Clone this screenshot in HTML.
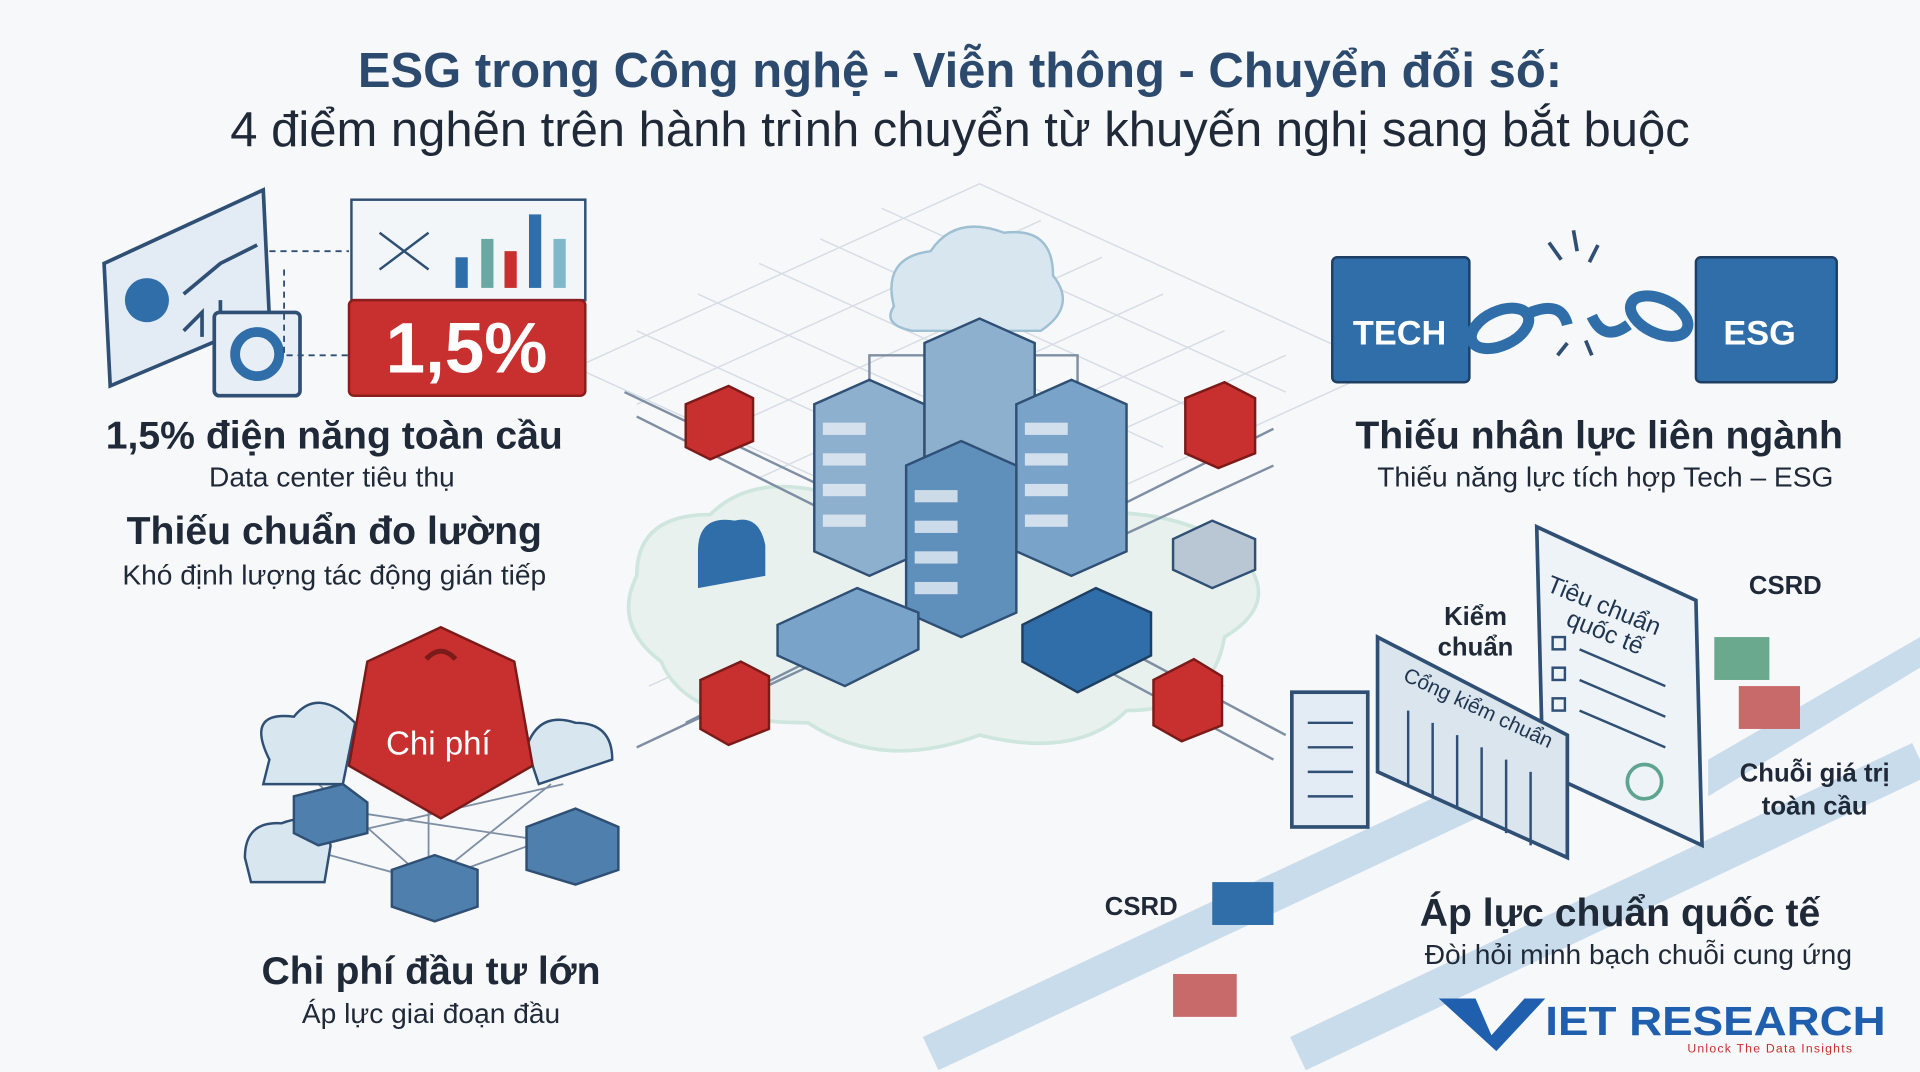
<!DOCTYPE html>
<html><head><meta charset="utf-8"><style>
html,body{margin:0;padding:0;background:#f7f8fa;}
svg{display:block;}
text{font-family:"Liberation Sans",sans-serif;}
</style></head><body>
<svg width="1920" height="1072" viewBox="0 0 1568 875" preserveAspectRatio="none" xmlns="http://www.w3.org/2000/svg">
<rect width="1568" height="875" fill="#f7f8fa"/>
<g stroke="#d6dde5" stroke-width="1.2" fill="none">
<path d="M470 300 L800 150 L1130 300 L800 450 Z"/>
<path d="M520 330 L850 180 M570 360 L900 210 M620 390 L950 240 M670 420 L1000 270 M720 440 L1050 290"/>
<path d="M520 270 L850 420 M570 240 L900 390 M620 215 L950 365 M670 195 L1000 345 M720 170 L1050 320"/>
<path d="M530 560 L840 420 M600 600 L910 460 M1000 560 L760 450"/>
</g>
<path d="M520 470 Q520 420 580 420 Q620 380 700 410 Q780 380 860 420 Q960 410 1010 450 Q1050 490 1000 520 Q990 580 920 580 Q880 620 800 600 Q720 630 660 590 Q560 590 540 540 Q500 510 520 470Z" fill="#e8f1ee" stroke="#cfe6de" stroke-width="3"/>
<path d="M730 250 Q720 210 760 205 Q780 175 820 190 Q860 185 860 225 Q880 250 850 270 L745 270 Q720 265 730 250Z" fill="#d7e6ef" stroke="#9fbfd3" stroke-width="2"/>
<g stroke="#7f8fa3" stroke-width="2" fill="none">
<path d="M510 320 L720 420 M520 340 L720 440 M560 590 L700 520 M520 610 L690 530 M1040 350 L900 420 M1040 380 L910 440 M1050 600 L900 520 M1040 620 L890 540"/>
<path d="M710 330 L710 290 L760 290 M880 330 L880 290 L840 290"/>
</g>
<g stroke="#2f4f74" stroke-width="2">
<path d="M665 330 L710 310 L755 330 L755 450 L710 470 L665 450Z" fill="#8db0cf"/>
<path d="M755 280 L800 260 L845 280 L845 400 L800 420 L755 400Z" fill="#8db0cf"/>
<path d="M830 330 L875 310 L920 330 L920 450 L875 470 L830 450Z" fill="#7aa3c9"/>
<path d="M740 380 L785 360 L830 380 L830 500 L785 520 L740 500Z" fill="#5f8fbb"/>
</g>
<g fill="#e8eef5" opacity="0.8">
<rect x="672" y="345" width="35" height="10"/><rect x="672" y="370" width="35" height="10"/><rect x="672" y="395" width="35" height="10"/><rect x="672" y="420" width="35" height="10"/>
<rect x="747" y="400" width="35" height="10"/><rect x="747" y="425" width="35" height="10"/><rect x="747" y="450" width="35" height="10"/><rect x="747" y="475" width="35" height="10"/>
<rect x="837" y="345" width="35" height="10"/><rect x="837" y="370" width="35" height="10"/><rect x="837" y="395" width="35" height="10"/><rect x="837" y="420" width="35" height="10"/>
</g>
<path d="M635 510 L700 480 L750 500 L750 530 L690 560 L635 535Z" fill="#7aa3c9" stroke="#2f4f74" stroke-width="2"/>
<path d="M835 510 L895 480 L940 500 L940 535 L880 565 L835 540Z" fill="#2f6ea8" stroke="#1e3f63" stroke-width="2"/>
<path d="M958 440 L990 425 L1025 440 L1025 465 L990 480 L958 465Z" fill="#b9c7d4" stroke="#2f4f74" stroke-width="2"/>
<path d="M570 450 Q570 420 600 425 Q620 420 625 445 L625 470 L570 480Z" fill="#2f6ea8"/>
<g fill="#c7302e" stroke="#7a1a19" stroke-width="2">
<path d="M560 330 L595 315 L615 325 L615 360 L580 375 L560 365Z"/>
<path d="M968 325 L1000 312 L1025 325 L1025 370 L995 382 L968 370Z"/>
<path d="M572 555 L605 540 L628 552 L628 595 L595 608 L572 595Z"/>
<path d="M942 555 L975 538 L998 552 L998 592 L965 605 L942 592Z"/>
</g>
<path d="M85 215 L215 155 L220 260 L90 315Z" fill="#e3ecf4" stroke="#2f4f74" stroke-width="3"/>
<circle cx="120" cy="245" r="18" fill="#2f6ea8"/>
<path d="M150 240 L180 215 L210 200 M150 270 L165 255 L165 275 M180 265 L180 245" stroke="#2f4f74" stroke-width="3" fill="none"/>
<rect x="175" y="255" width="70" height="68" rx="4" fill="#e8eef5" stroke="#2f4f74" stroke-width="3"/>
<circle cx="210" cy="289" r="18" fill="none" stroke="#2f6ea8" stroke-width="8"/>
<rect x="287" y="163" width="191" height="82" fill="#f3f6f9" stroke="#2f4f74" stroke-width="2"/>
<g fill="#2f6ea8"><rect x="372" y="210" width="10" height="25"/><rect x="393" y="195" width="10" height="40" fill="#6aa9a3"/><rect x="412" y="205" width="10" height="30" fill="#c7302e"/><rect x="432" y="175" width="10" height="60"/><rect x="452" y="195" width="10" height="40" fill="#7fb8c9"/></g>
<path d="M310 190 L350 220 M310 220 L350 190" stroke="#2f4f74" stroke-width="2"/>
<rect x="285" y="245" width="193" height="78" rx="4" fill="#c7302e" stroke="#8a1e1c" stroke-width="2"/>
<text x="381" y="304" text-anchor="middle" font-size="58" font-weight="bold" fill="#fff">1,5%</text>
<path d="M220 205 L285 205 M232 220 L232 290 L285 290" stroke="#2f4f74" stroke-dasharray="5 4" stroke-width="1.5" fill="none"/>
<rect x="1088" y="210" width="112" height="102" rx="4" fill="#2f6ea8" stroke="#1e3f63" stroke-width="2"/>
<text x="1143" y="281" text-anchor="middle" font-size="28" font-weight="bold" fill="#fff">TECH</text>
<rect x="1385" y="210" width="115" height="102" rx="4" fill="#2f6ea8" stroke="#1e3f63" stroke-width="2"/>
<text x="1437" y="281" text-anchor="middle" font-size="28" font-weight="bold" fill="#fff">ESG</text>
<g fill="none" stroke="#2f6ea8" stroke-width="9"><ellipse cx="1225" cy="268" rx="25" ry="14" transform="rotate(-25 1225 268)"/><ellipse cx="1355" cy="258" rx="25" ry="14" transform="rotate(25 1355 258)"/><path d="M1250 255 Q1275 245 1280 265 M1330 265 Q1310 280 1300 258"/></g>
<g stroke="#2f4f74" stroke-width="3"><path d="M1285 188 L1288 205 M1265 198 L1275 212 M1305 200 L1298 214 M1272 290 L1280 280 M1300 290 L1295 278"/></g>
<path d="M1395 620 L1568 520 L1568 545 L1395 650Z" fill="#c9dceb"/>
<path d="M1060 860 L1568 620 M760 860 L1230 640" stroke="#c9dceb" stroke-width="30"/>
<path d="M1255 430 L1385 490 L1390 690 L1260 630Z" fill="#eef3f7" stroke="#2f4f74" stroke-width="3"/>
<text transform="translate(1262 482) rotate(22)" font-size="20" fill="#1f3550">Tiêu chuẩn</text>
<text transform="translate(1278 510) rotate(22)" font-size="20" fill="#1f3550">quốc tế</text>
<g stroke="#2f4f74" stroke-width="2" fill="none"><rect x="1268" y="520" width="10" height="10"/><rect x="1268" y="545" width="10" height="10"/><rect x="1268" y="570" width="10" height="10"/><path d="M1290 530 L1360 560 M1290 555 L1360 585 M1290 580 L1360 610"/></g>
<circle cx="1343" cy="638" r="14" fill="none" stroke="#5ea48f" stroke-width="3"/>
<path d="M1125 520 L1280 600 L1280 700 L1125 630Z" fill="#dbe5ee" stroke="#2f4f74" stroke-width="3"/>
<g stroke="#2f4f74" stroke-width="2"><path d="M1150 580 L1150 640 M1170 590 L1170 650 M1190 600 L1190 660 M1210 610 L1210 670 M1230 620 L1230 680 M1250 630 L1250 690"/></g>
<text transform="translate(1145 555) rotate(25)" font-size="17" fill="#1f3550">Cổng kiểm chuẩn</text>
<rect x="1055" y="565" width="62" height="110" fill="#e3ecf4" stroke="#2f4f74" stroke-width="3"/>
<g stroke="#2f4f74" stroke-width="2"><path d="M1068 590 L1105 590 M1068 610 L1105 610 M1068 630 L1105 630 M1068 650 L1105 650"/></g>
<rect x="1400" y="520" width="45" height="35" fill="#6aa98d"/>
<rect x="1420" y="560" width="50" height="35" fill="#c96a6a"/>
<rect x="990" y="720" width="50" height="35" fill="#2f6ea8"/>
<rect x="958" y="795" width="52" height="35" fill="#c96a6a"/>
<text x="1458" y="485" text-anchor="middle" font-size="21" font-weight="bold" fill="#1f2937">CSRD</text>
<text x="1205" y="510" text-anchor="middle" font-size="21" font-weight="bold" fill="#1f2937">Kiểm</text>
<text x="1205" y="535" text-anchor="middle" font-size="21" font-weight="bold" fill="#1f2937">chuẩn</text>
<text x="1482" y="638" text-anchor="middle" font-size="21" font-weight="bold" fill="#1f2937">Chuỗi giá trị</text>
<text x="1482" y="665" text-anchor="middle" font-size="21" font-weight="bold" fill="#1f2937">toàn cầu</text>
<text x="932" y="747" text-anchor="middle" font-size="21" font-weight="bold" fill="#1f2937">CSRD</text>
<g stroke="#7f8fa3" stroke-width="1.5" fill="none"><path d="M240 690 L350 720 L460 680 M260 640 L350 720 L450 640 M350 720 L350 660 M270 660 L470 690 M240 690 L460 640"/></g>
<path d="M220 620 Q200 580 240 585 Q260 560 290 590 L280 640 L215 640Z" fill="#d7e6ef" stroke="#2f4f74" stroke-width="2"/>
<path d="M430 610 Q440 580 470 590 Q500 590 500 620 L440 640Z" fill="#d7e6ef" stroke="#2f4f74" stroke-width="2"/>
<path d="M200 700 Q200 670 230 672 Q260 660 270 690 L265 720 L205 720Z" fill="#d7e6ef" stroke="#2f4f74" stroke-width="2"/>
<g fill="#4f80ad" stroke="#2f4f74" stroke-width="2"><path d="M320 710 L355 698 L390 710 L390 740 L355 752 L320 740Z"/><path d="M430 675 L470 660 L505 675 L505 710 L470 722 L430 710Z"/><path d="M240 650 L280 640 L300 655 L300 680 L260 690 L240 680Z"/></g>
<path d="M300 540 L360 512 L420 540 L435 625 L360 668 L285 625Z" fill="#c7302e" stroke="#7a1a19" stroke-width="2"/>
<path d="M348 538 Q360 525 372 538" stroke="#7a1a19" stroke-width="4" fill="none"/>
<text x="358" y="616" text-anchor="middle" font-size="27" fill="#fff">Chi phí</text>
<text x="784" y="71" text-anchor="middle" font-size="40" font-weight="bold" fill="#2c4a6e">ESG trong Công nghệ - Viễn thông - Chuyển đổi số:</text>
<text x="784" y="119" text-anchor="middle" font-size="40" fill="#1f2937">4 điểm nghẽn trên hành trình chuyển từ khuyến nghị sang bắt buộc</text>
<text x="273" y="366" text-anchor="middle" font-size="32" font-weight="bold" fill="#1f2937">1,5% điện năng toàn cầu</text>
<text x="271" y="397" text-anchor="middle" font-size="23" fill="#1f2937">Data center tiêu thụ</text>
<text x="273" y="444" text-anchor="middle" font-size="32" font-weight="bold" fill="#1f2937">Thiếu chuẩn đo lường</text>
<text x="273" y="477" text-anchor="middle" font-size="23" fill="#1f2937">Khó định lượng tác động gián tiếp</text>
<text x="352" y="803" text-anchor="middle" font-size="32" font-weight="bold" fill="#1f2937">Chi phí đầu tư lớn</text>
<text x="352" y="835" text-anchor="middle" font-size="23" fill="#1f2937">Áp lực giai đoạn đầu</text>
<text x="1306" y="366" text-anchor="middle" font-size="32" font-weight="bold" fill="#1f2937">Thiếu nhân lực liên ngành</text>
<text x="1311" y="397" text-anchor="middle" font-size="23" fill="#1f2937">Thiếu năng lực tích hợp Tech – ESG</text>
<text x="1323" y="756" text-anchor="middle" font-size="32" font-weight="bold" fill="#1f2937">Áp lực chuẩn quốc tế</text>
<text x="1338" y="787" text-anchor="middle" font-size="23" fill="#1f2937">Đòi hỏi minh bạch chuỗi cung ứng</text>
<path d="M1175 815 L1205 815 L1218 845 L1245 815 L1262 815 L1222 858Z" fill="#1f5fae"/>
<text x="1262" y="845" font-size="33" font-weight="bold" fill="#1f5fae" textLength="278" lengthAdjust="spacingAndGlyphs">IET RESEARCH</text>
<text x="1378" y="859" font-size="10" fill="#c7302e" font-family="Liberation Serif" letter-spacing="1">Unlock The Data Insights</text>
</svg>
</body></html>
